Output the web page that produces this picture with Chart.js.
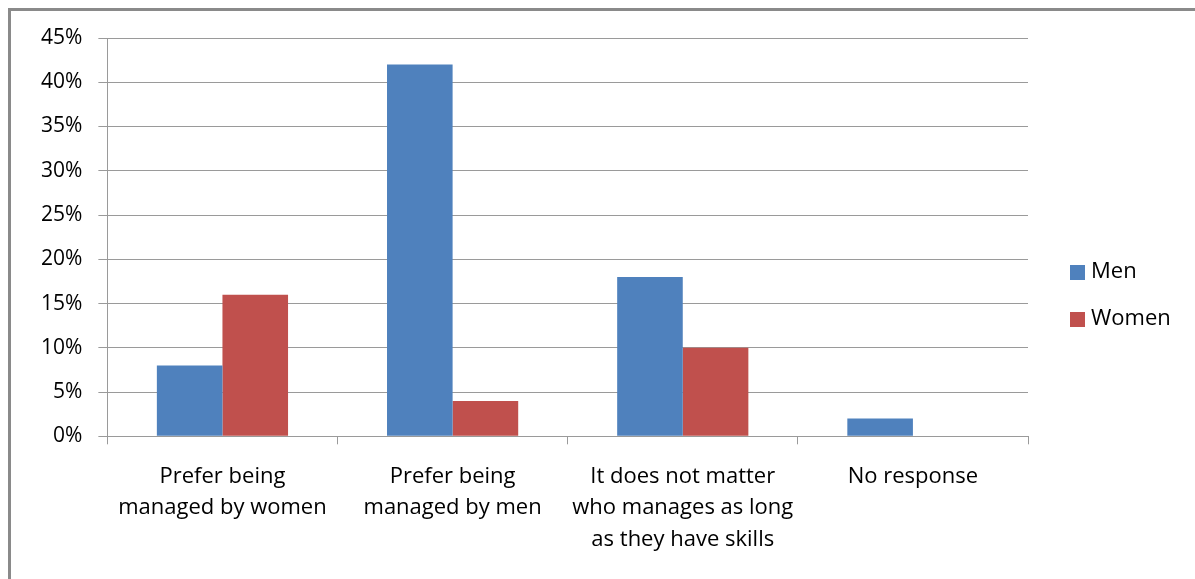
<!DOCTYPE html>
<html>
<head>
<meta charset="utf-8">
<script src="https://cdn.jsdelivr.net/npm/chart.js@4"></script>
<style>
  html, body { margin: 0; padding: 0; background: #fff; overflow: hidden; }
  #frame { position: absolute; left: 8px; top: 8px; width: 1400px; height: 800px; border: 3px solid #8a8a8a; }
  #wrap { position: absolute; left: 0; top: 0; width: 1195px; height: 579px; }
</style>
</head>
<body>
<div id="frame"></div>
<div id="wrap"><canvas id="chart"></canvas></div>
<script>
const categories = [
    ['Prefer being', 'managed by women'],
    ['Prefer being', 'managed by men'],
    ['It does not matter', 'who manages as long', 'as they have skills'],
    ['No response']
];
const menValues = [8, 42, 18, 2];
const womenValues = [16, 4, 10, 0];
const seriesNames = ['Men', 'Women'];
const seriesColors = ['#4F81BD', '#C0504D'];

// legend drawn by hand so it sits where the original has it
const sideLegend = {
    id: 'sideLegend',
    afterDraw(chart) {
        const ctx = chart.ctx;
        ctx.save();
        ctx.font = '22px "Open Sans", sans-serif';
        ctx.textBaseline = 'middle';
        chart.data.datasets.forEach((ds, i) => {
            const y = 272 + i * 47;
            ctx.fillStyle = ds.backgroundColor;
            ctx.fillRect(1070, y - 7, 15, 15);
            ctx.fillStyle = '#000';
            ctx.fillText(ds.label, 1091, y);
        });
        ctx.restore();
    }
};

const ctx = document.getElementById('chart').getContext('2d');
new Chart(ctx, {
    type: 'bar',
    data: {
        labels: categories,
        datasets: [
            { label: seriesNames[0], data: menValues, backgroundColor: seriesColors[0] },
            { label: seriesNames[1], data: womenValues, backgroundColor: seriesColors[1] }
        ]
    },
    options: {
        responsive: true,
        maintainAspectRatio: false,
        animation: false,
        categoryPercentage: 0.57,
        barPercentage: 1.0,
        layout: { padding: { top: 38, right: 167, left: 25, bottom: 7 } },
        plugins: {
            legend: { display: false },
            tooltip: { enabled: false }
        },
        scales: {
            y: {
                min: 0,
                max: 45,
                ticks: {
                    stepSize: 5,
                    callback: v => v + '%',
                    color: '#000',
                    font: { family: '"Open Sans", sans-serif', size: 21 },
                    padding: 16
                },
                grid: { color: '#9a9a9a', lineWidth: 1, tickLength: 9 },
                border: { color: '#9a9a9a' }
            },
            x: {
                ticks: {
                    color: '#000',
                    font: { family: '"Open Sans", sans-serif', size: 22, lineHeight: 1.45 },
                    padding: 16,
                    maxRotation: 0
                },
                grid: { drawOnChartArea: false, color: '#9a9a9a', tickLength: 8 },
                border: { color: '#9a9a9a' }
            }
        }
    },
    plugins: [sideLegend]
});
</script>
</body>
</html>
